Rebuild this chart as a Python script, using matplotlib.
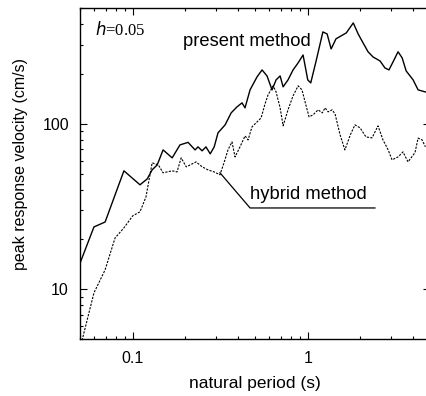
import numpy as np
import matplotlib
matplotlib.use('Agg')
import matplotlib.pyplot as plt

plt.rcParams['font.family'] = ['Liberation Sans', 'DejaVu Sans']

# velocity response spectrum, present method (natural period s, velocity cm/s)
present_period = [0.050, 0.060, 0.0695, 0.089, 0.110, 0.121, 0.129, 0.138, 0.149, 0.168,
                  0.186, 0.207, 0.227, 0.236, 0.249, 0.262, 0.277, 0.292, 0.307, 0.337,
                  0.365, 0.394, 0.421, 0.438, 0.468, 0.513, 0.548, 0.585, 0.625, 0.659,
                  0.695, 0.723, 0.771, 0.824, 0.881, 0.940, 1.00, 1.04, 1.12, 1.22,
                  1.29, 1.36, 1.45, 1.66, 1.82, 1.94, 2.07, 2.21, 2.36, 2.59,
                  2.76, 2.91, 3.07, 3.28, 3.46, 3.65, 4.00, 4.27, 4.70]
present_vel = [14.4, 23.8, 25.5, 52.0, 42.8, 46.5, 52.7, 56.5, 69.6, 62.3,
               74.6, 77.3, 69.6, 72.6, 68.7, 72.6, 65.9, 72.6, 88.3, 98.6,
               116.6, 126.7, 134.0, 125.0, 160.6, 192.4, 212.0, 195.0, 160.6, 184.5,
               195.0, 167.5, 184.5, 212.0, 234.0, 261.0, 184.5, 177.0, 244.0, 360.0,
               350.0, 284.0, 327.0, 355.0, 408.0, 350.0, 309.0, 273.0, 254.0, 240.0,
               218.0, 212.0, 237.0, 273.0, 251.0, 209.0, 184.5, 160.6, 156.0]

# hybrid method
hybrid_period = [0.0513, 0.060, 0.0695, 0.0792, 0.089, 0.100, 0.110, 0.119, 0.129, 0.140,
                 0.149, 0.168, 0.179, 0.189, 0.202, 0.213, 0.230, 0.249, 0.269, 0.292,
                 0.315, 0.332, 0.350, 0.369, 0.384, 0.410, 0.438, 0.456, 0.480, 0.513,
                 0.541, 0.570, 0.593, 0.634, 0.659, 0.695, 0.723, 0.771, 0.824, 0.881,
                 0.927, 0.965, 1.017, 1.072, 1.145, 1.21, 1.256, 1.306, 1.377, 1.432,
                 1.53, 1.63, 1.75, 1.86, 1.99, 2.15, 2.33, 2.52, 2.69, 2.88,
                 3.03, 3.28, 3.50, 3.74, 4.10, 4.27, 4.50, 4.70]
hybrid_vel = [4.9, 9.5, 13.1, 20.4, 23.5, 27.8, 29.4, 36.2, 58.1, 56.5,
              50.6, 52.0, 51.2, 62.3, 55.0, 56.5, 58.9, 55.0, 52.7, 51.2,
              49.2, 58.1, 69.6, 77.8, 63.1, 72.6, 84.6, 80.0, 95.9, 102.8,
              108.7, 132.0, 149.8, 169.8, 156.2, 125.0, 97.3, 121.6, 147.7, 169.8,
              160.6, 135.9, 110.3, 113.4, 121.6, 116.6, 125.0, 118.2, 121.6, 114.9,
              85.8, 69.6, 85.8, 98.6, 94.6, 83.4, 82.3, 97.3, 80.0, 69.6,
              60.6, 63.1, 67.7, 58.9, 67.0, 82.0, 80.0, 72.6]


def main():
    fig = plt.figure(figsize=(4.26, 3.96), dpi=100)
    # right edge runs just past the figure border
    ax = fig.add_axes([0.188, 0.144, 0.8216, 0.835])

    ax.plot(present_period, present_vel, color='black', lw=1.0)
    ax.plot(hybrid_period, hybrid_vel, color='black', lw=0.8, ls=(0, (2.0, 1.2)))

    ax.set_xscale('log')
    ax.set_yscale('log')
    ax.set_xlim(0.05, 5)
    ax.set_ylim(5, 500)
    ax.set_xticks([0.1, 1])
    ax.set_xticklabels(['0.1', '1'])
    ax.set_yticks([10, 100])
    ax.set_yticklabels(['10', '100'])

    ax.tick_params(which='both', direction='in', top=True, right=True, width=0.8)
    ax.tick_params(which='major', length=5, labelsize=11.5)
    ax.tick_params(which='minor', length=2.5)
    ax.tick_params(axis='x', which='major', pad=8.5)
    ax.tick_params(axis='y', which='major', pad=8)
    for s in ax.spines.values():
        s.set_linewidth(1.0)

    ax.set_xlabel('natural period (s)', fontsize=12.5)
    ax.set_ylabel('peak response velocity (cm/s)', fontsize=11.5)
    ax.xaxis.set_label_coords(0.507 * 345 / 350, -0.112)
    ax.yaxis.set_label_coords(-0.151 * 345 / 350, 0.53)

    # labels
    ax.text(15 / 350, 0.934, r'$h$=0.05', transform=ax.transAxes, ha='left', va='center',
            fontsize=12, family='Liberation Serif')
    ax.text(0.194, 313, 'present method', ha='left', va='center', fontsize=13.2)
    ax.text(0.47, 37.5, 'hybrid method', ha='left', va='center', fontsize=13.2)
    ax.plot([0.315, 0.468, 2.42], [50.6, 31.0, 31.0], color='black', lw=0.9)

    fig.savefig('out.png', dpi=100)


if __name__ == '__main__':
    main()
